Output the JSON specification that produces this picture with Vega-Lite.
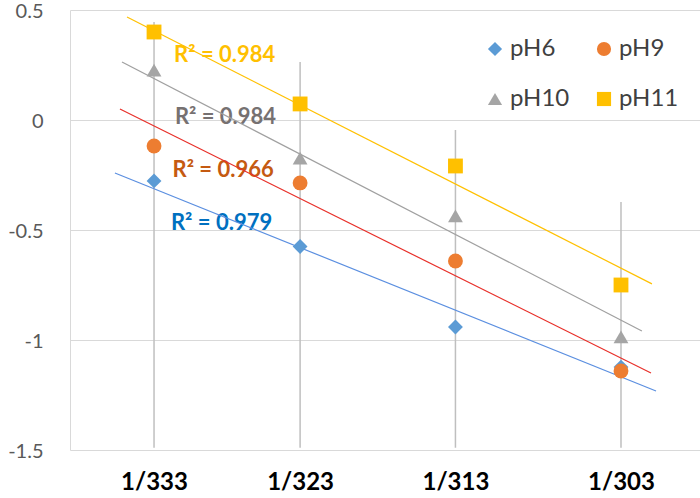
{
  "$schema": "https://vega.github.io/schema/vega-lite/v6.json",
  "width": 630,
  "height": 440,
  "autosize": "none",
  "padding": {"left": 70, "top": 10, "right": 0, "bottom": 48},
  "background": "white",
  "config": {
    "font": "Lato",
    "view": {"stroke": null}
  },
  "datasets": {
    "points": [
      {"series": "pH6", "x": 0.0030030, "y": -0.277},
      {"series": "pH6", "x": 0.0030960, "y": -0.575},
      {"series": "pH6", "x": 0.0031949, "y": -0.941},
      {"series": "pH6", "x": 0.0033003, "y": -1.123},
      {"series": "pH9", "x": 0.0030030, "y": -0.118},
      {"series": "pH9", "x": 0.0030960, "y": -0.286},
      {"series": "pH9", "x": 0.0031949, "y": -0.641},
      {"series": "pH9", "x": 0.0033003, "y": -1.141},
      {"series": "pH10", "x": 0.0030030, "y": 0.227},
      {"series": "pH10", "x": 0.0030960, "y": -0.173},
      {"series": "pH10", "x": 0.0031949, "y": -0.436},
      {"series": "pH10", "x": 0.0033003, "y": -0.986},
      {"series": "pH11", "x": 0.0030030, "y": 0.400},
      {"series": "pH11", "x": 0.0030960, "y": 0.073},
      {"series": "pH11", "x": 0.0031949, "y": -0.209},
      {"series": "pH11", "x": 0.0033003, "y": -0.750}
    ],
    "trends": [
      {"series": "pH6", "x": 0.0029781, "y": -0.241},
      {"series": "pH6", "x": 0.0033226, "y": -1.232},
      {"series": "pH9", "x": 0.0029813, "y": 0.050},
      {"series": "pH9", "x": 0.0033194, "y": -1.150},
      {"series": "pH10", "x": 0.0029826, "y": 0.264},
      {"series": "pH10", "x": 0.0033136, "y": -0.959},
      {"series": "pH11", "x": 0.0029858, "y": 0.468},
      {"series": "pH11", "x": 0.0033200, "y": -0.745}
    ],
    "rules": [
      {"x": 0.0030030, "top": 0.445, "bottom": -1.49},
      {"x": 0.0030960, "top": 0.264, "bottom": -1.49},
      {"x": 0.0031949, "top": -0.045, "bottom": -1.49},
      {"x": 0.0033003, "top": -0.373, "bottom": -1.49}
    ],
    "labels": [
      {"series": "pH11", "x": 0.0030480, "y": 0.295, "label": "R² = 0.984"},
      {"series": "pH10", "x": 0.0030485, "y": 0.014, "label": "R² = 0.984"},
      {"series": "pH9", "x": 0.0030470, "y": -0.227, "label": "R² = 0.966"},
      {"series": "pH6", "x": 0.0030460, "y": -0.468, "label": "R² = 0.979"}
    ]
  },
  "encoding": {
    "x": {
      "field": "x", "type": "quantitative",
      "scale": {"domain": [0.0029495, 0.0033506], "nice": false, "zero": false},
      "axis": {
        "title": null,
        "values": [0.0030030, 0.0030960, 0.0031949, 0.0033003],
        "labelExpr": "'1/' + format(round(1/datum.value), 'd')",
        "labelFont": "Lato", "labelFontSize": 24, "labelFontWeight": "bold",
        "labelColor": "#000000", "labelPadding": 20,
        "ticks": false, "domain": false, "grid": false
      }
    },
    "y": {
      "field": "y", "type": "quantitative",
      "scale": {"domain": [-1.5, 0.5], "nice": false, "zero": false},
      "axis": {
        "title": null,
        "values": [-1.5, -1, -0.5, 0, 0.5],
        "labelExpr": "toString(datum.value)",
        "labelFont": "Lato", "labelFontSize": 20, "labelColor": "#595959",
        "labelBaseline": "alphabetic", "labelOffset": 7,
        "labelPadding": 27, "ticks": false,
        "domain": true, "domainColor": "#D9D9D9", "domainWidth": 1,
        "grid": true, "gridColor": "#D9D9D9", "gridWidth": 1
      }
    }
  },
  "layer": [
    {
      "data": {"name": "rules"},
      "mark": {"type": "rule", "color": "#BFBFBF", "strokeWidth": 1.5},
      "encoding": {
        "y": {"field": "top", "type": "quantitative"},
        "y2": {"field": "bottom"}
      }
    },
    {
      "data": {"name": "labels"},
      "mark": {"type": "text", "font": "Lato", "fontSize": 22, "fontWeight": "bold", "align": "center", "baseline": "middle"},
      "encoding": {
        "text": {"field": "label"},
        "fill": {
          "field": "series", "type": "nominal",
          "scale": {"domain": ["pH6", "pH9", "pH10", "pH11"], "range": ["#0070C0", "#C55A11", "#767171", "#FFC000"]},
          "legend": null
        }
      }
    },
    {
      "data": {"name": "trends"},
      "mark": {"type": "line", "strokeWidth": 1.2},
      "encoding": {
        "detail": {"field": "series"},
        "stroke": {
          "field": "series", "type": "nominal",
          "scale": {"domain": ["pH6", "pH9", "pH10", "pH11"], "range": ["#5B8FE0", "#E8302A", "#A0A0A0", "#FFC000"]},
          "legend": null
        }
      }
    },
    {
      "data": {"name": "points"},
      "mark": {"type": "point", "filled": true, "opacity": 1, "size": 220},
      "encoding": {
        "color": {
          "field": "series", "type": "nominal",
          "scale": {"domain": ["pH6", "pH9", "pH10", "pH11"], "range": ["#5B9BD5", "#ED7D31", "#A5A5A5", "#FFC000"]},
          "legend": {
            "title": null, "orient": "none", "legendX": 413, "legendY": 27,
            "direction": "horizontal", "gridAlign": "each",
            "columns": 2, "columnPadding": 22, "rowPadding": 26,
            "labelFont": "Lato", "labelFontSize": 24, "labelColor": "#404040",
            "labelOffset": 3, "symbolSize": 200, "symbolStrokeWidth": 0
          }
        },
        "shape": {
          "field": "series", "type": "nominal",
          "scale": {"domain": ["pH6", "pH9", "pH10", "pH11"], "range": ["diamond", "circle", "triangle-up", "square"]}
        }
      }
    }
  ],
  "resolve": {"scale": {"fill": "independent", "stroke": "independent"}}
}
